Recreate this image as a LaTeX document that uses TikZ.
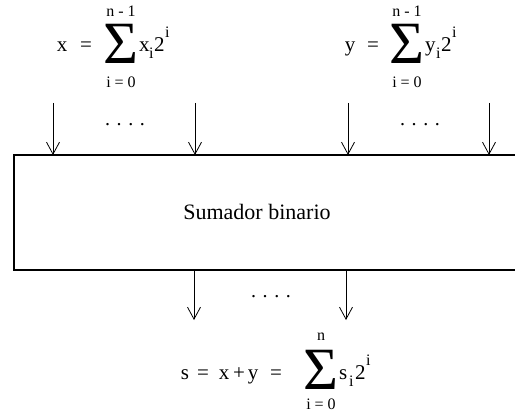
\documentclass[tikz,border=0pt]{standalone}
\usepackage{fontspec}
\setmainfont{Liberation Serif}
\usetikzlibrary{arrows.meta}
\begin{document}
\begin{tikzpicture}[x=1pt,y=-1pt,
  txt/.style={inner sep=0pt, anchor=base, font=\fontsize{21}{24}\selectfont},
  txtw/.style={inner sep=0pt, anchor=base west, font=\fontsize{21}{24}\selectfont},
  lim/.style={inner sep=0pt, font=\fontsize{16}{18}\selectfont},
  idx/.style={inner sep=0pt, anchor=base west, font=\fontsize{16}{18}\selectfont},
  sig/.style={inner sep=0pt, font=\fontsize{60}{62}\selectfont},
  dotrow/.style={inner sep=0pt, anchor=base, font=\fontsize{20}{24}\selectfont},
  sigarrow/.style={-{Straight Barb[length=12pt,width=13pt]}, line width=0.8pt},
  boxline/.style={line width=2pt},
  label/.style={inner sep=0pt, font=\fontsize{22}{26}\selectfont}
]
\path[use as bounding box] (0,0) rectangle (515,412);

% x formula
\node[txt] (xv) at (62,52) {x};
\node[txt] (xeq) at (86,52) {=};
\node[sig] (xsig) at (121,44) {Σ};
\node[lim] (xtop) at (121,11) {n - 1};
\node[lim] (xbot) at (121,82) {i = 0};
\node[txtw] (xx) at (139,52) {x};
\node[idx] (xxi) at (149,59) {i};
\node[txtw] (x2) at (154,52) {2};
\node[idx] (x2i) at (165,38) {i};

% y formula
\node[txt] (yv) at (350,52) {y};
\node[txt] (yeq) at (373,52) {=};
\node[sig] (ysig) at (407,44) {Σ};
\node[lim] (ytop) at (407,11) {n - 1};
\node[lim] (ybot) at (407,82) {i = 0};
\node[txtw] (yy) at (425,52) {y};
\node[idx] (yyi) at (436,59) {i};
\node[txtw] (y2) at (441,52) {2};
\node[idx] (y2i) at (452,38) {i};

% box
\coordinate (bl) at (14,270);
\coordinate (tl) at (14,155);
\coordinate (tr) at (530,155);
\coordinate (br) at (530,270);
\draw[boxline] (tr) -- (tl) -- (bl) -- (br);
\node[label] (lbl) at (257,212) {Sumador binario};

% input arrows
\coordinate (a1) at (53,103);
\coordinate (a2) at (195,103);
\coordinate (a3) at (348,103);
\coordinate (a4) at (489,103);
\coordinate (e1) at (53,155);
\coordinate (e2) at (195,155);
\coordinate (e3) at (348,155);
\coordinate (e4) at (489,155);
\draw[sigarrow] (a1) -- (e1);
\draw[sigarrow] (a2) -- (e2);
\draw[sigarrow] (a3) -- (e3);
\draw[sigarrow] (a4) -- (e4);
\node[dotrow] (d1) at (125,126) {. . . .};
\node[dotrow] (d2) at (420,126) {. . . .};

% output arrows
\coordinate (o1) at (194,270);
\coordinate (o2) at (346,270);
\coordinate (p1) at (194,320);
\coordinate (p2) at (346,320);
\draw[sigarrow] (o1) -- (p1);
\draw[sigarrow] (o2) -- (p2);
\node[dotrow] (d3) at (271,298) {. . . .};

% s formula
\node[txt] (sv) at (185,379) {s};
\node[txt] (seq1) at (203,379) {=};
\node[txt] (sx) at (224,379) {x};
\node[txt] (splus) at (239,379) {+};
\node[txt] (sy) at (253,379) {y};
\node[txt] (seq2) at (276,379) {=};
\node[sig] (ssig) at (321,370) {Σ};
\node[lim] (stop) at (321,337) {n};
\node[lim] (sbot) at (321,404) {i = 0};
\node[txtw] (ss) at (339,379) {s};
\node[idx] (ssi) at (349,386) {i};
\node[txtw] (s2) at (355,379) {2};
\node[idx] (s2i) at (366,365) {i};
\end{tikzpicture}
\end{document}
